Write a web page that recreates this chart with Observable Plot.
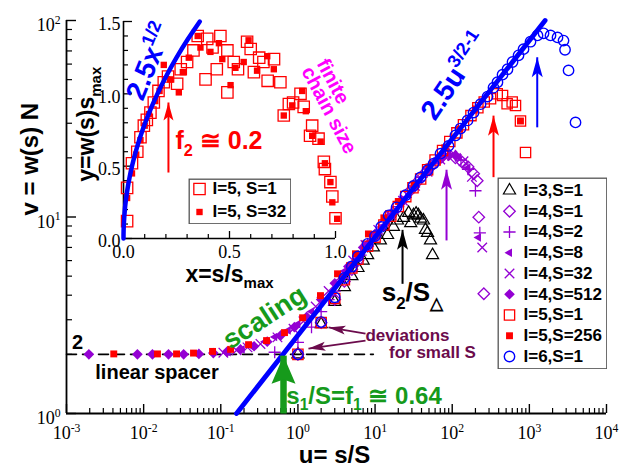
<!DOCTYPE html>
<html><head><meta charset="utf-8">
<script src="https://cdn.jsdelivr.net/npm/d3@7"></script>
<script src="https://cdn.jsdelivr.net/npm/@observablehq/plot@0.6"></script>
<style>
body{margin:0;background:#fff}
#chart{position:relative;width:619px;height:466px;overflow:hidden}
#chart>svg,#chart>div{position:absolute}
</style></head><body><div id="chart"></div>
<script>
// ---------- data (main plot: u = s/S, v = w(s) N) ----------
const I3S1_u = [1,2,3,4,5,6,7,8,9.5,11.7,14.5,17.3,19.5,23.4,27.2,29,31.5,34,36.5,39,42.4,45,47.8,52.3,55.6];
const I3S1_v = [2.0,2.85,3.7,4.4,5.0,5.5,6.0,6.4,7.0,7.6,8.1,8.9,9.6,9.9,10.5,9.3,10.2,10.4,10.2,9.8,9.6,8.6,8.3,7.6,6.4];
const I4S1_u = [1,2,3,4,5,6,8,10,13,17,22,28,36,46,58,73,90,110,135,160,190,211,221,257];
const I4S1_v = [2.0,2.9,3.8,4.7,5.4,6.0,7.1,8.0,9.2,10.5,12.0,13.5,15.2,17.0,18.7,20.2,20.8,20.0,19.0,18.0,16.6,15.3,9.98,4.07];
const I4S2_u = [0.5,1,1.5,2,2.5,3,4,5,6.5,8,10,13,16,20,25,32,40,50,60,75,90,110,130,160,200,228];
const I4S2_v = [2.05,2.3,2.75,3.3,3.8,4.2,4.9,5.6,6.4,7.2,8.0,9.1,10.1,11.3,12.6,14.2,15.9,17.6,18.9,20.4,21.0,20.5,19.5,17.5,13.6,8.3];
const I4S8_u = [0.125,0.19,0.25,0.375,0.5,0.75,1,1.5,2,3,4,6,8,12,16,24,32,48,64,90,120,160,219];
const I4S8_v = [2.05,2.12,2.2,2.32,2.45,2.65,2.85,3.3,3.9,4.6,5.3,6.4,7.4,8.9,10.3,12.4,14.2,16.9,19.2,20.8,20.2,17.8,7.86];
const I4S32_u = [0.108,0.16,0.222,0.327,0.543,0.877,1.18,1.7,2.5,3.6,5.2,7.5,11,16,23,33,48,70,100,140,180,245];
const I4S32_v = [2.04,2.1,2.17,2.26,2.44,2.7,2.95,3.5,4.2,5.0,6.0,7.2,8.6,10.2,12.1,14.4,17.0,19.6,20.5,19.2,16.0,7.0];
const I4S512_u = [0.00195,0.0083,0.013,0.021,0.033,0.052,0.08,0.12,0.18,0.27,0.4,0.6,0.9,1.3,2,3,4.5,7,10,15,22,33,50,75,110];
const I4S512_v = [2.0,2.0,2.0,2.0,2.0,2.01,2.03,2.06,2.12,2.2,2.32,2.5,2.75,3.1,3.8,4.6,5.6,7.0,8.2,9.9,11.9,14.4,17.4,20.2,20.6];
const I5S1_u = [1,2,3,4,5,6,8,10,13,16,20,25,31,39,48,60,75,93,115,140,175,215,260,314,383,449,515,599,661,767,892];
const I5S1_v = [2.0,2.9,3.85,4.8,5.5,6.1,7.1,7.9,9.1,10.1,11.3,12.7,14.1,15.6,17.4,19.5,21.8,24.2,26.8,29.5,32.8,36.0,38.5,40.0,42.4,41.5,37.7,38.5,36.9,30.8,21.3];
const I5S256_u = [0.0041,0.0151,0.0267,0.0443,0.0782,0.134,0.229,0.392,0.67,1.15,1.96,3.26,5.57,8.2,13,20,32,50,80,125,200,767];
const I5S256_v = [2.01,2.01,2.01,2.03,2.07,2.12,2.24,2.35,2.58,3.07,3.98,5.14,6.5,8.2,9.9,12.0,14.6,18.0,22.5,28.0,35.5,30.8];
const I6S1_u = [1,2,3,4,5,6,8,10,12,15,19,24.8,31.5,38.8,47.9,57.3,70.5,89.5,110,128,158,189,233,287,343,386,449,521,605,724,840,1035,1276,1528,1880,2317,2773,2900,3221,3966];
const I6S1_v = [2.0,2.92,3.9,4.9,5.6,6.3,7.3,8.0,8.9,10.2,11.2,12.9,14.4,15.9,17.3,18.7,21.0,23.0,26.0,28.2,31.0,34.0,37.5,41.0,45.5,48.5,53.0,56.5,61.5,66.5,71.5,78,84,86,84,82,79,71,55.7,30.3];

// fit 2.5 u^(3/2-1) end points and the linear-spacer level
const fitU = [0.16, 1600];
const fitV = [1, 100];
const spacerU = [0.001, 9.5];
const spacerV = [2, 2];

// vertical arrows (u, tail v, tip v)
const arrowU    = [22.7, 84.4, 343, 1265];
const arrowTail = [4.57, 7.6, 15.95, 28.6];
const arrowTip  = [8.6, 17.4, 32.8, 65.0];
const greenU = [0.65], greenTail = [1.0], greenTip = [1.97];
// "deviations" arrows (tail u,v -> tip u,v)
const devTailU = [7.52, 7.52], devTailV = [2.55, 2.35];
const devTipU  = [2.49, 1.37], devTipV  = [2.74, 2.14];

// ---------- data (inset: x = s/s_max, y = w(s) s_max) ----------
const inS1_x = [0.017,0.017,0.04,0.065,0.08,0.096,0.11,0.127,0.143,0.165,0.19,0.21,0.253,0.27,0.30,0.33,0.35,0.387,0.395,0.42,0.44,0.457,0.49,0.49,0.52,0.54,0.583,0.60,0.615,0.64,0.66,0.68,0.71,0.74,0.756,0.78,0.80,0.835,0.85,0.88,0.89,0.92,0.945,0.95,0.976,0.985,1.0];
const inS1_y = [0.12,0.35,0.52,0.60,0.70,0.78,0.82,0.87,0.94,1.02,1.08,1.12,1.07,1.17,1.22,1.30,1.40,1.10,1.38,1.32,1.17,1.40,1.30,1.01,1.22,1.17,1.36,1.31,1.15,1.25,1.22,1.09,1.24,1.08,0.85,0.93,0.94,1.0,0.91,0.71,0.78,0.69,0.53,0.48,0.39,0.29,0.14];
const inS32_x = [0.017,0.04,0.06,0.08,0.10,0.12,0.15,0.17,0.19,0.22,0.261,0.28,0.308,0.35,0.363,0.41,0.45,0.466,0.505,0.528,0.567,0.59,0.63,0.678,0.709,0.756,0.796,0.843,0.86,0.89,0.93,0.95,0.976,0.985,1.008];
const inS32_y = [0.28,0.45,0.58,0.68,0.78,0.86,0.95,1.02,1.2,1.1,1.01,1.15,1.25,1.40,1.32,1.29,1.35,1.24,1.06,1.18,1.22,1.37,1.16,1.26,1.17,0.85,0.92,1.02,0.88,0.71,0.67,0.52,0.39,0.25,0.136];
const inFitX = [0,0.0004,0.0016,0.0064,0.01,0.0225,0.04,0.0625,0.09,0.1225,0.16,0.2025,0.25,0.3025,0.36];
const inFitY = [0,0.05,0.1,0.2,0.25,0.375,0.5,0.625,0.75,0.875,1.0,1.125,1.25,1.375,1.5];
const inArrowX = [0.212], inArrowTail = [0.456], inArrowTip = [0.94];

// ---------- ticks and labels ----------
const xMajor = [1e-3,1e-2,1e-1,1,10,100,1000,10000];
const xMinor = xMajor.slice(0,-1).flatMap(d => [2,3,4,5,6,7,8,9].map(k => k*d));
const yMajor = [1,10,100];
const yMinor = [1,10].flatMap(d => [2,3,4,5,6,7,8,9].map(k => k*d));
const inXMajor = [0,0.5,1.0];
const inXMinor = [0.1,0.2,0.3,0.4,0.6,0.7,0.8,0.9];
const inYMajor = [0,0.5,1.0,1.5];
const inYMinor = [0.1,0.2,0.3,0.4,0.6,0.7,0.8,0.9,1.1,1.2,1.3,1.4];
const legendLabels = ["I=3,S=1","I=4,S=1","I=4,S=2","I=4,S=8","I=4,S=32","I=4,S=512","I=5,S=1","I=5,S=256","I=6,S=1"];
const insetLegendLabels = ["I=5, S=1","I=5, S=32"];

// ---------- styles ----------
const PURPLE = "#9400d3", RED = "#ff0000", BLUE = "#0000ff", GREEN = "#169a1b", MAROON = "#6b0b4c", MAGENTA = "#ff00ff";
const SANS = "'Liberation Sans', Arial, Helvetica, sans-serif";
const SERIF = "'Liberation Serif', 'Times New Roman', serif";
const seriesStyle = {
  "I=3,S=1":   {symbol:"triangle", r:4.5, stroke:"black", fill:"none", strokeWidth:1.2},
  "I=4,S=1":   {symbol:"diamond2", r:5.2, stroke:PURPLE, fill:"none", strokeWidth:1.3},
  "I=4,S=2":   {symbol:"plus", r:4.0, stroke:PURPLE, strokeWidth:1.3},
  "I=4,S=8":   {symbol:"triangle", r:3.2, fill:PURPLE, rotate:-90},
  "I=4,S=32":  {symbol:"times", r:4.4, stroke:PURPLE, strokeWidth:1.3},
  "I=4,S=512": {symbol:"diamond2", r:4.8, fill:PURPLE},
  "I=5,S=1":   {symbol:"square", r:5.8, stroke:RED, fill:"none", strokeWidth:1.3},
  "I=5,S=256": {symbol:"square", r:3.9, fill:RED},
  "I=6,S=1":   {symbol:"circle", r:5.2, stroke:BLUE, fill:"none", strokeWidth:1.4}
};
const seriesData = {
  "I=3,S=1":[I3S1_u,I3S1_v], "I=4,S=1":[I4S1_u,I4S1_v], "I=4,S=2":[I4S2_u,I4S2_v],
  "I=4,S=8":[I4S8_u,I4S8_v], "I=4,S=32":[I4S32_u,I4S32_v], "I=4,S=512":[I4S512_u,I4S512_v],
  "I=5,S=1":[I5S1_u,I5S1_v], "I=5,S=256":[I5S256_u,I5S256_v], "I=6,S=1":[I6S1_u,I6S1_v]
};
const pts = (xs, ys) => xs.map((x,i) => ({x, y: ys[i]}));

// filled, notched arrow head drawn with its tip at the origin, pointing up
const head = (w, l, notch = 0.22) => ({draw(ctx) {
  ctx.moveTo(0,0); ctx.lineTo(w/2,l); ctx.lineTo(0,l*(1-notch)); ctx.lineTo(-w/2,l); ctx.closePath();
}});

const W = 619, H = 466;
const fH = 413-20, fW = 606-66;
const expFmt = d => `10^{${Math.round(Math.log10(d))}}`;
const note = (txt, x, y, o) => Plot.text([txt], {x: () => x, y: () => y, text: d => d, fontFamily: SANS, fontWeight: "bold", ...o});

const vArrows = arrowU.map((u,i) => ({u, t: arrowTail[i], h: arrowTip[i], c: [ "black", PURPLE, RED, BLUE ][i]}));
const devArrows = devTailU.map((u,i) => ({x1:u, y1:devTailV[i], x2:devTipU[i], y2:devTipV[i]}));

const main = Plot.plot({
  width: W, height: H, marginLeft: 66, marginRight: 13, marginTop: 20, marginBottom: 53,
  x: {type: "log", domain: [1e-3, 1e4]},
  y: {type: "log", domain: [1, 100]},
  style: {fontFamily: SANS, background: "white", overflow: "visible"},
  marks: [
    Plot.line(pts(spacerU, spacerV), {x:"x", y:"y", stroke:"black", strokeWidth:1.6, strokeDasharray:"10,6"}),
    Plot.ruleX(xMinor, {insetTop: fH-5, strokeWidth:1.2}),
    Plot.ruleX(xMajor, {insetTop: fH-9, strokeWidth:1.4}),
    Plot.ruleY(yMinor, {insetRight: fW-6, strokeWidth:1.2}),
    Plot.ruleY(yMajor, {insetRight: fW-10, strokeWidth:1.4}),
    Plot.ruleX([1e-3], {strokeWidth:1.8}),
    Plot.ruleY([1], {strokeWidth:1.8}),
    Plot.axisX(xMajor, {tickSize:0, tickPadding:13, tickFormat: expFmt, fontFamily: SERIF, fontSize:18, label:null}),
    Plot.axisY(yMajor, {tickSize:0, tickPadding:6, dy:5, tickFormat: expFmt, fontFamily: SERIF, fontSize:18, label:null}),
    ...legendLabels.map(k => Plot.dot(pts(...seriesData[k]), {x:"x", y:"y", ...seriesStyle[k]})),
    Plot.line(pts(fitU, fitV), {x:"x", y:"y", stroke:BLUE, strokeWidth:4.8}),
    // vertical arrows
    Plot.link(vArrows, {x1:"u", x2:"u", y1:"t", y2:"h", stroke:"c", strokeWidth:2}),
    Plot.dot(vArrows, {x:"u", y:"h", fill:"c", symbol: head(11, 20)}),
    Plot.link(pts(greenU, greenTail).map((d,i) => ({...d, h: greenTip[i]})), {x1:"x", x2:"x", y1:"y", y2:"h", stroke:GREEN, strokeWidth:6.5}),
    Plot.dot(pts(greenU, greenTip), {x:"x", y:"y", fill:GREEN, symbol: head(24, 28, 0.15)}),
    Plot.link(devArrows, {x1:"x1", y1:"y1", x2:"x2", y2:"y2", stroke:MAROON, strokeWidth:1.8}),
    Plot.dot([devArrows[0]], {x:"x2", y:"y2", fill:MAROON, symbol: head(9, 17), rotate:-81}),
    Plot.dot([devArrows[1]], {x:"x2", y:"y2", fill:MAROON, symbol: head(9, 17), rotate:-98}),
    // annotations
    note("2", 0.00139, 2.30, {fontSize:20, fill:"black"}),
    note("linear spacer", 0.0149, 1.617, {fontSize:20, fill:"black"}),
    note("scaling", 0.369, 3.08, {fontSize:27, fill:GREEN, rotate:-33}),
    note("s_{1}/S=f_{1} ≅ 0.64", 7.19, 1.124, {fontSize:24, fill:GREEN, lineAnchor:"bottom"}),
    note("deviations", 26.3, 2.49, {fontSize:17, fill:MAROON}),
    note("for small S", 55.5, 2.04, {fontSize:17, fill:MAROON}),
    note("s_{2}/S_{△}", 30.5, 3.72, {fontSize:26, fill:"black", lineAnchor:"bottom"}),
    note("2.5u^{3/2-1}", 108, 52, {fontSize:28, fill:BLUE, rotate:-56}),
    note("finite", 2.85, 49, {fontSize:20, fill:MAGENTA, rotate:62}),
    note("chain size", 2.53, 35, {fontSize:20, fill:MAGENTA, rotate:62}),
    // axis titles
    Plot.text(["u= s/S"], {frameAnchor:"bottom", text:d=>d, dx:-2, dy:49, lineAnchor:"bottom", fontSize:24, fontWeight:"bold", fontFamily:SANS}),
    Plot.text(["v = w(s) N"], {frameAnchor:"left", text:d=>d, dx:-29, dy:-1.5, rotate:-90, lineAnchor:"bottom", fontSize:24, fontWeight:"bold", fontFamily:SANS})
  ]
});

const iH = 238-21, iW = 335-123;
const inset = Plot.plot({
  width: W, height: H, marginLeft: 123, marginRight: W-335, marginTop: 21, marginBottom: H-238,
  x: {domain: [0, 1]},
  y: {domain: [0, 1.5]},
  style: {fontFamily: SANS, background: "transparent", overflow: "visible"},
  marks: [
    Plot.ruleX(inXMinor, {insetTop: iH-4, strokeWidth:1.2}),
    Plot.ruleX(inXMajor, {insetTop: iH-7, strokeWidth:1.3}),
    Plot.ruleY(inYMinor, {insetRight: iW-5, strokeWidth:1.2}),
    Plot.ruleY(inYMajor, {insetRight: iW-9, strokeWidth:1.3}),
    Plot.ruleX([0], {strokeWidth:1.6}),
    Plot.ruleY([0], {strokeWidth:1.6}),
    Plot.axisX(inXMajor, {tickSize:0, tickPadding:7, tickFormat: d => d.toFixed(1), fontFamily: SERIF, fontSize:18, label:null}),
    Plot.axisY(inYMajor, {tickSize:0, tickPadding:3, dy:3, tickFormat: d => d.toFixed(1), fontFamily: SERIF, fontSize:18, label:null}),
    Plot.dot(pts(inS1_x, inS1_y), {x:"x", y:"y", symbol:"square", r:6.4, stroke:RED, fill:"none", strokeWidth:1.3}),
    Plot.dot(pts(inS32_x, inS32_y), {x:"x", y:"y", symbol:"square", r:3.6, fill:RED}),
    Plot.line(pts(inFitX, inFitY), {x:"x", y:"y", stroke:BLUE, strokeWidth:4.5, curve:"catmull-rom"}),
    Plot.link(inArrowX.map((x,i) => ({x, t: inArrowTail[i], h: inArrowTip[i]})), {x1:"x", x2:"x", y1:"t", y2:"h", stroke:RED, strokeWidth:2}),
    Plot.dot(pts(inArrowX, inArrowTip), {x:"x", y:"y", fill:RED, symbol: head(10, 18)}),
    note("2.5x^{1/2}", 0.1226, 1.223, {fontSize:28, fill:BLUE, rotate:-68}),
    note("f_{2} ≅ 0.2", 0.245, 0.622, {fontSize:25, fill:RED, textAnchor:"start", lineAnchor:"bottom"}),
    Plot.text(["x=s/s_{max}"], {frameAnchor:"bottom", text:d=>d, dy:43, lineAnchor:"bottom", fontSize:23, fontWeight:"bold", fontFamily:SANS}),
    Plot.text(["y=w(s)s_{max}"], {x: () => -0.137, y: () => 0.79, text:d=>d, rotate:-90, lineAnchor:"bottom", fontSize:23, fontWeight:"bold", fontFamily:SANS})
  ]
});

function legendPlot(labels, styles, w, h, y0, step, sx, tx) {
  return Plot.plot({
    width: w, height: h, margin: 0,
    x: {domain: [0, w], range: [0, w], axis: null},
    y: {domain: [0, h], range: [0, h], axis: null},
    style: {fontFamily: SANS, background: "white"},
    marks: [
      Plot.frame({stroke:"#555", strokeWidth:1.3, inset:0.7}),
      ...labels.map((lab, i) => Plot.dot([lab], {x: () => sx, y: () => y0 + step*i, ...styles[i]})),
      Plot.text(labels, {x: () => tx, y: (d,i) => y0 + step*i, text: d => d, textAnchor:"start", fontSize:17, fontWeight:"bold", fontFamily:SANS})
    ]
  });
}
const legend = legendPlot(legendLabels, legendLabels.map(k => seriesStyle[k]), 110, 192, 13, 20.75, 12, 26);
const insetLegend = legendPlot(insetLegendLabels,
  [{symbol:"square", r:6.4, stroke:RED, fill:"none", strokeWidth:1.3}, {symbol:"square", r:3.6, fill:RED}],
  103, 46, 10.5, 23, 11, 24);

const root = document.getElementById("chart");
main.style.left = "0px"; main.style.top = "0px";
inset.style.left = "0px"; inset.style.top = "0px";
legend.style.left = "497px"; legend.style.top = "177px";
insetLegend.style.left = "188px"; insetLegend.style.top = "178px";
[main, inset, legend, insetLegend].forEach(s => { s.style.position = "absolute"; root.appendChild(s); });

// render "_{...}" / "^{...}" as sub/superscript tspans
function richify(svg) {
  svg.querySelectorAll("text").forEach(t => {
    const s = t.textContent;
    if (!/[_^]\{/.test(s)) return;
    const fs = parseFloat(getComputedStyle(t).fontSize) || 16;
    while (t.firstChild) t.removeChild(t.firstChild);
    const parts = []; const re = /([_^])\{([^}]*)\}/g; let last = 0, m;
    while ((m = re.exec(s))) {
      if (m.index > last) parts.push({t: s.slice(last, m.index), k: ""});
      parts.push({t: m[2], k: m[1]}); last = re.lastIndex;
    }
    if (last < s.length) parts.push({t: s.slice(last), k: ""});
    let cur = 0;
    parts.forEach(p => {
      const ts = document.createElementNS("http://www.w3.org/2000/svg", "tspan");
      const target = p.k === "_" ? fs*0.28 : p.k === "^" ? -fs*0.42 : 0;
      if (Math.abs(target - cur) > 0.01) ts.setAttribute("dy", (target - cur).toFixed(2));
      if (p.k) ts.setAttribute("font-size", (fs*0.65).toFixed(1));
      ts.textContent = p.t; t.appendChild(ts); cur = target;
    });
  });
}
[main, inset].forEach(richify);
</script></body></html>
